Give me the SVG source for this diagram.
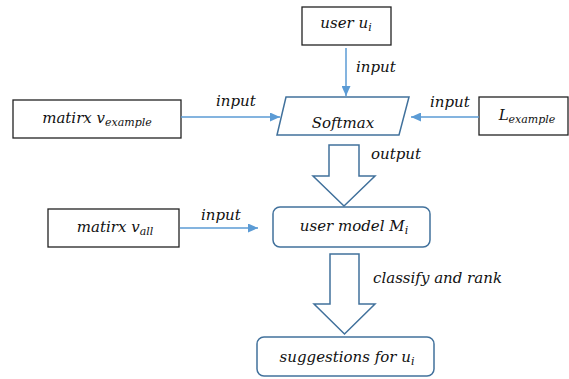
<svg xmlns="http://www.w3.org/2000/svg" width="569" height="379" viewBox="0 0 569 379">
<defs>
<marker id="ah" markerUnits="userSpaceOnUse" markerWidth="10" markerHeight="9" refX="10" refY="4.5" orient="auto">
<path d="M0,0 L10,4.5 L0,9 Z" fill="#5B9BD5"/>
</marker>
<style>
.box{fill:#fff;stroke:#222;stroke-width:1.3}
.rbox{fill:#fff;stroke:#41719C;stroke-width:1.5}
.blk{fill:#fff;stroke:#41719C;stroke-width:1.5;stroke-linejoin:miter}
.conn{stroke:#5B9BD5;stroke-width:1.5;fill:none}
text{font-family:"DejaVu Serif","Liberation Serif",serif;font-style:italic;font-size:15px;fill:#111}
.m{text-anchor:middle}
.sub{font-size:11px}
</style>
</defs>
<rect width="569" height="379" fill="#fff"/>
<g id="user">
<rect class="box" x="302" y="7" width="89" height="38"/>
<text class="m" x="346" y="28">user u<tspan class="sub" dy="3">i</tspan></text>
</g>
<g id="softmax">
<polygon class="rbox" points="286,97 409,97 399,135 277,135"/>
<text class="m" x="343" y="128">Softmax</text>
</g>
<g id="vexample">
<rect class="box" x="13" y="100" width="168" height="38"/>
<text class="m" x="97" y="123">matirx v<tspan class="sub" dy="3">example</tspan></text>
</g>
<g id="lexample">
<rect class="box" x="479" y="97" width="89" height="38"/>
<text class="m" x="527" y="120">L<tspan class="sub" dy="3">example</tspan></text>
</g>
<g id="usermodel">
<rect class="rbox" x="273" y="207" width="157" height="40" rx="7"/>
<text class="m" x="354" y="231">user model M<tspan class="sub" dy="3">i</tspan></text>
</g>
<g id="vall">
<rect class="box" x="48" y="209" width="131" height="38"/>
<text class="m" x="115" y="232">matirx v<tspan class="sub" dy="3">all</tspan></text>
</g>
<g id="suggestions">
<rect class="rbox" x="257" y="337" width="177" height="39" rx="7"/>
<text class="m" x="347" y="362">suggestions for u<tspan class="sub" dy="3">i</tspan></text>
</g>
<g id="connectors">
<line class="conn" x1="346" y1="48" x2="346" y2="96" marker-end="url(#ah)"/>
<line class="conn" x1="181" y1="117" x2="280" y2="117" marker-end="url(#ah)"/>
<line class="conn" x1="479" y1="117" x2="411" y2="117" marker-end="url(#ah)"/>
<line class="conn" x1="180" y1="228" x2="258" y2="228" marker-end="url(#ah)"/>
<polygon class="blk" points="329,145 359,145 359,176 375,176 344,206 313,176 329,176"/>
<polygon class="blk" points="330,254 359,254 359,304 375,304 344.5,334 314,304 330,304"/>
<text x="356" y="72">input</text>
<text x="216" y="106">input</text>
<text x="430" y="107">input</text>
<text x="371" y="159">output</text>
<text x="201" y="220">input</text>
<text x="373" y="283">classify and rank</text>
</g>
</svg>
